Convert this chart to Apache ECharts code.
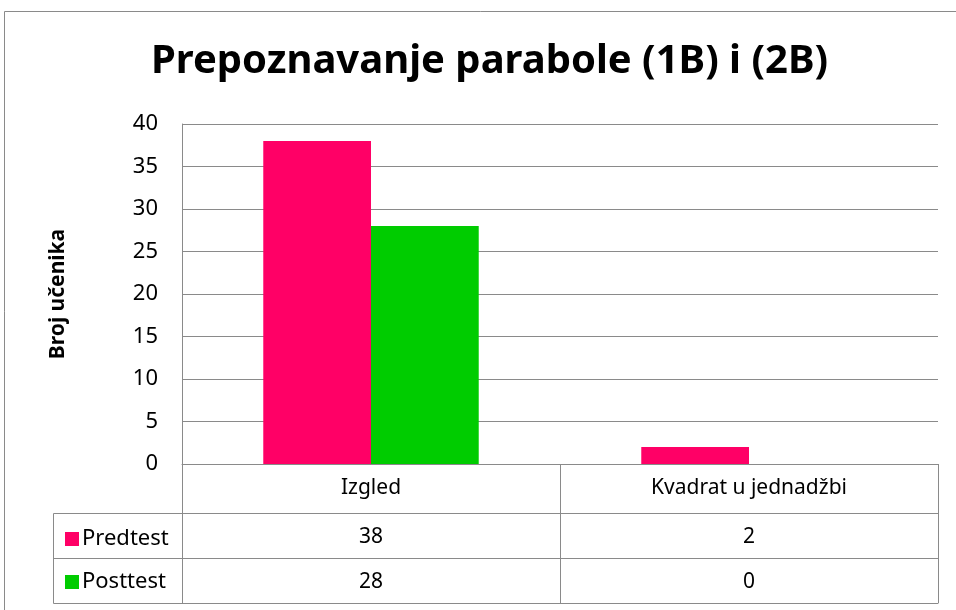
<!DOCTYPE html>
<html>
<head>
<meta charset="utf-8">
<script src="https://cdn.jsdelivr.net/npm/echarts@6/dist/echarts.min.js"></script>
<style>
  html, body { margin: 0; padding: 0; background: #fff; }
  #chart { width: 956px; height: 610px; }
</style>
</head>
<body>
<div id="chart"></div>
<script>
  const categories = ["Izgled", "Kvadrat u jednadžbi"];
  const seriesNames = ["Predtest", "Posttest"];
  const predtest = [38, 2];
  const posttest = [28, 0];
  const yTicks = { min: 0, max: 40, interval: 5 };

  const FONT = "Noto Sans";
  const GRAY = "#8a8a8a";
  const COLORS = ["#ff0066", "#00cc00"];

  const ROW = 45; // table row height
  const chart = echarts.init(document.getElementById("chart"));

  function tableAxis(offset, values, showLabel) {
    return {
      type: "category",
      data: categories,
      position: "bottom",
      offset: offset,
      axisLine: { show: true, lineStyle: { color: GRAY, width: 1 } },
      axisTick: { show: false },
      axisLabel: {
        show: showLabel,
        margin: 14,
        fontFamily: FONT,
        fontSize: 21,
        color: "#000",
        formatter: (v, i) => String(values ? values[i] : v),
      },
    };
  }

  const option = {
    animation: false,
    color: COLORS,
    title: {
      text: "Prepoznavanje parabole (1B) i (2B)",
      left: 146,
      top: 37,
      textStyle: { fontFamily: FONT, fontSize: 40, fontWeight: "bold", color: "#000" },
    },
    legend: {
      orient: "vertical",
      left: 60,
      top: 523,
      itemWidth: 14,
      itemHeight: 14,
      itemGap: 21,
      icon: "rect",
      textStyle: { fontFamily: FONT, fontSize: 22, color: "#000", padding: [0, 0, 0, -2] },
      data: seriesNames,
      selectedMode: false,
    },
    grid: { left: 182, right: 18, top: 124, bottom: 146 },
    xAxis: [
      {
        type: "category",
        data: categories,
        position: "bottom",
        axisLine: { show: true, lineStyle: { color: GRAY, width: 1 } },
        axisTick: { show: true, length: 139, lineStyle: { color: GRAY, width: 1 } },
        axisLabel: { margin: 14, fontFamily: FONT, fontSize: 21, color: "#000" },
      },
      tableAxis(ROW + 4, predtest, true),
      tableAxis(2 * ROW + 4, posttest, true),
      tableAxis(3 * ROW + 4, null, false),
    ],
    yAxis: {
      type: "value",
      min: yTicks.min,
      max: yTicks.max,
      interval: yTicks.interval,
      name: "Broj učenika",
      nameLocation: "middle",
      nameGap: 113,
      nameRotate: 90,
      nameTextStyle: { fontFamily: FONT, fontSize: 21, fontWeight: "bold", color: "#000" },
      axisLine: { show: true, lineStyle: { color: GRAY, width: 1 } },
      axisTick: { show: false },
      splitLine: { lineStyle: { color: GRAY, width: 1 } },
      axisLabel: { margin: 24, fontFamily: FONT, fontSize: 22, color: "#000" },
    },
    series: [
      { name: seriesNames[0], type: "bar", data: predtest, barGap: "0%", barCategoryGap: "43%" },
      { name: seriesNames[1], type: "bar", data: posttest, barGap: "0%", barCategoryGap: "43%" },
    ],
  };

  chart.setOption(option);

  // outer frame and the left column of the data table (series names)
  const yTop = 464 + ROW + 4;
  const x0 = 182;
  chart.setOption({
    graphic: [
      {
        type: "rect",
        shape: { x: 4.5, y: 11.5, width: 955, height: 620 },
        style: { fill: null, stroke: GRAY, lineWidth: 1 },
        silent: true,
      },
      {
        type: "rect",
        shape: { x: 53.5, y: yTop + 0.5, width: x0 - 53, height: 2 * ROW },
        style: { fill: null, stroke: GRAY, lineWidth: 1 },
        silent: true,
      },
      {
        type: "line",
        shape: { x1: 53.5, y1: yTop + ROW + 0.5, x2: x0, y2: yTop + ROW + 0.5 },
        style: { stroke: GRAY, lineWidth: 1 },
        silent: true,
      },
    ],
  });
</script>
</body>
</html>
